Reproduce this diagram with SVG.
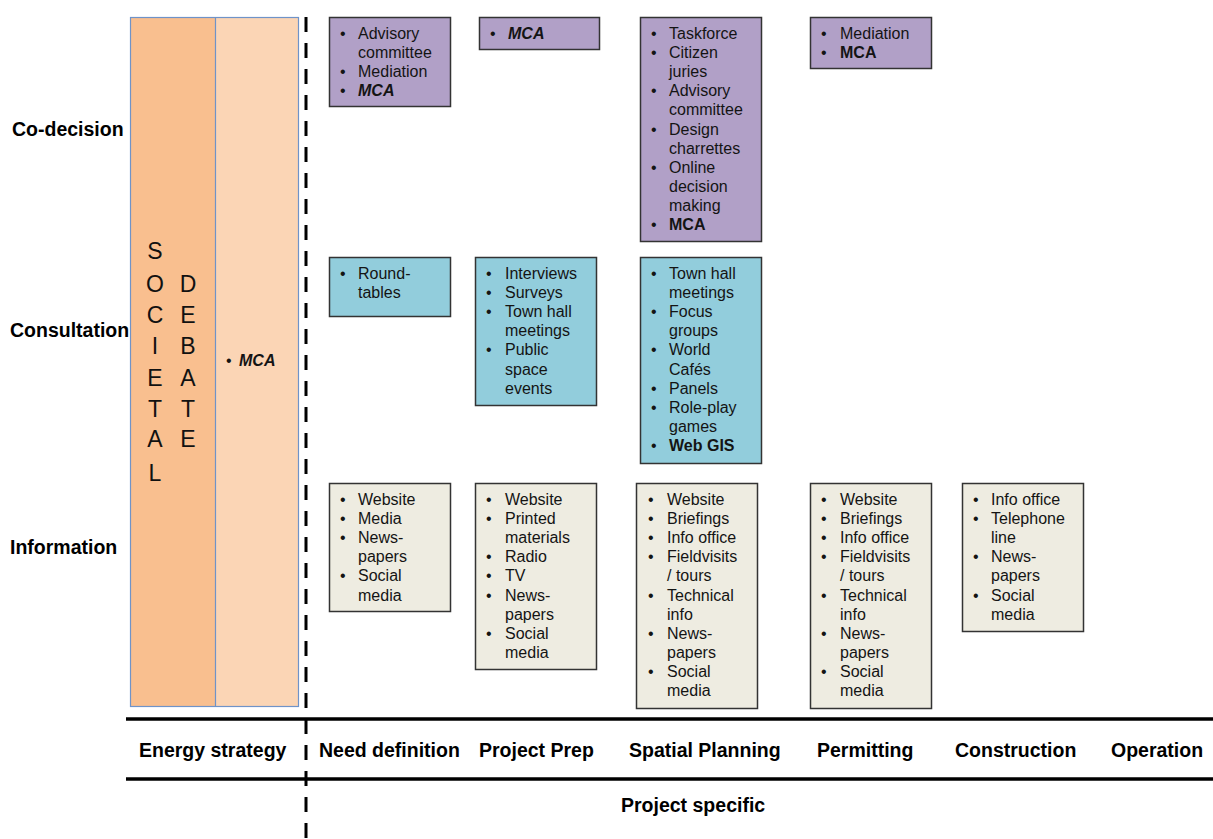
<svg xmlns="http://www.w3.org/2000/svg" width="1213" height="839" viewBox="0 0 1213 839">
<style>
text{font-family:"Liberation Sans",Arial,sans-serif;}
.lbl{font-size:19.5px;font-weight:bold;fill:#000;}
.it{font-size:16px;fill:#141414;}
.b{font-weight:bold;}
.bi{font-weight:bold;font-style:italic;}
.big{font-size:23px;fill:#111;text-anchor:middle;}
.box{stroke:#333;stroke-width:1.5;}
.pur{fill:#B1A0C7;}
.blu{fill:#92CDDC;}
.bei{fill:#EEECE1;}
.rule{stroke:#000;stroke-width:3.5;}
</style>
<rect width="1213" height="839" fill="#fff"/>
<g id="societal-panel">
<rect x="130.5" y="17.5" width="85" height="689" fill="#F9BF8F"/>
<rect x="215.5" y="17.5" width="83" height="689" fill="#FBD5B5"/>
<rect x="130.5" y="17.5" width="168" height="689" fill="none" stroke="#6F93C8" stroke-width="1.2"/>
<line x1="215.5" y1="17.5" x2="215.5" y2="706.5" stroke="#6F93C8" stroke-width="1.2"/>
<text class="big" x="155" y="259">S</text>
<text class="big" x="155" y="292">O</text>
<text class="big" x="155" y="323">C</text>
<text class="big" x="155" y="354">I</text>
<text class="big" x="155" y="386">E</text>
<text class="big" x="155" y="417">T</text>
<text class="big" x="155" y="447">A</text>
<text class="big" x="155" y="481">L</text>
<text class="big" x="188" y="292">D</text>
<text class="big" x="188" y="323">E</text>
<text class="big" x="188" y="354">B</text>
<text class="big" x="188" y="386">A</text>
<text class="big" x="188" y="417">T</text>
<text class="big" x="188" y="447">E</text>
<text class="it" x="226" y="366" font-size="13">•</text>
<text class="it bi" x="239" y="366">MCA</text>
</g>
<g id="row-labels">
<text class="lbl" x="12" y="136">Co-decision</text>
<text class="lbl" x="10" y="337">Consultation</text>
<text class="lbl" x="10" y="554">Information</text>
</g>
<g id="connectors">
<line x1="306" y1="17" x2="306" y2="839" stroke="#000" stroke-width="3" stroke-dasharray="15 11"/>
<line class="rule" x1="126" y1="719" x2="1213" y2="719"/>
<line class="rule" x1="126" y1="779" x2="1213" y2="779"/>
</g>
<g id="phase-labels">
<text class="lbl" x="139" y="757">Energy strategy</text>
<text class="lbl" x="319" y="757">Need definition</text>
<text class="lbl" x="479" y="757">Project Prep</text>
<text class="lbl" x="629" y="757">Spatial Planning</text>
<text class="lbl" x="817" y="757">Permitting</text>
<text class="lbl" x="955" y="757">Construction</text>
<text class="lbl" x="1111" y="757">Operation</text>
<text class="lbl" x="621" y="812">Project specific</text>
</g>
<g id="cd-need" class="it">
<rect class="box pur" x="329.5" y="17.5" width="121" height="89"/>
<text x="340" y="39">•</text><text x="358" y="39">Advisory</text>
<text x="358" y="58.1">committee</text>
<text x="340" y="77.2">•</text><text x="358" y="77.2">Mediation</text>
<text x="340" y="96.3">•</text><text class="bi" x="358" y="96.3">MCA</text>
</g>
<g id="cd-prep" class="it">
<rect class="box pur" x="479.5" y="17.5" width="120" height="32"/>
<text x="490" y="39">•</text><text class="bi" x="508" y="39">MCA</text>
</g>
<g id="cd-spatial" class="it">
<rect class="box pur" x="640.5" y="17.5" width="121" height="224"/>
<text x="651" y="39">•</text><text x="669" y="39">Taskforce</text>
<text x="651" y="58.1">•</text><text x="669" y="58.1">Citizen</text>
<text x="669" y="77.2">juries</text>
<text x="651" y="96.3">•</text><text x="669" y="96.3">Advisory</text>
<text x="669" y="115.4">committee</text>
<text x="651" y="134.5">•</text><text x="669" y="134.5">Design</text>
<text x="669" y="153.6">charrettes</text>
<text x="651" y="172.7">•</text><text x="669" y="172.7">Online</text>
<text x="669" y="191.8">decision</text>
<text x="669" y="210.9">making</text>
<text x="651" y="230">•</text><text class="b" x="669" y="230">MCA</text>
</g>
<g id="cd-permit" class="it">
<rect class="box pur" x="810.5" y="17.5" width="121" height="51"/>
<text x="821" y="39">•</text><text x="840" y="39">Mediation</text>
<text x="821" y="58.1">•</text><text class="b" x="840" y="58.1">MCA</text>
</g>
<g id="con-need" class="it">
<rect class="box blu" x="329.5" y="257.5" width="121" height="59"/>
<text x="340" y="279">•</text><text x="358" y="279">Round-</text>
<text x="358" y="298.1">tables</text>
</g>
<g id="con-prep" class="it">
<rect class="box blu" x="475.5" y="257.5" width="121" height="148"/>
<text x="486" y="279">•</text><text x="505" y="279">Interviews</text>
<text x="486" y="298.1">•</text><text x="505" y="298.1">Surveys</text>
<text x="486" y="317.2">•</text><text x="505" y="317.2">Town hall</text>
<text x="505" y="336.3">meetings</text>
<text x="486" y="355.4">•</text><text x="505" y="355.4">Public</text>
<text x="505" y="374.5">space</text>
<text x="505" y="393.6">events</text>
</g>
<g id="con-spatial" class="it">
<rect class="box blu" x="640.5" y="257.5" width="121" height="206"/>
<text x="651" y="279">•</text><text x="669" y="279">Town hall</text>
<text x="669" y="298.1">meetings</text>
<text x="651" y="317.2">•</text><text x="669" y="317.2">Focus</text>
<text x="669" y="336.3">groups</text>
<text x="651" y="355.4">•</text><text x="669" y="355.4">World</text>
<text x="669" y="374.5">Cafés</text>
<text x="651" y="393.6">•</text><text x="669" y="393.6">Panels</text>
<text x="651" y="412.7">•</text><text x="669" y="412.7">Role-play</text>
<text x="669" y="431.8">games</text>
<text x="651" y="450.9">•</text><text class="b" x="669" y="450.9">Web GIS</text>
</g>
<g id="inf-need" class="it">
<rect class="box bei" x="329.5" y="483.5" width="121" height="128"/>
<text x="340" y="505">•</text><text x="358" y="505">Website</text>
<text x="340" y="524.1">•</text><text x="358" y="524.1">Media</text>
<text x="340" y="543.2">•</text><text x="358" y="543.2">News-</text>
<text x="358" y="562.3">papers</text>
<text x="340" y="581.4">•</text><text x="358" y="581.4">Social</text>
<text x="358" y="600.5">media</text>
</g>
<g id="inf-prep" class="it">
<rect class="box bei" x="475.5" y="483.5" width="121" height="186"/>
<text x="486" y="505">•</text><text x="505" y="505">Website</text>
<text x="486" y="524.1">•</text><text x="505" y="524.1">Printed</text>
<text x="505" y="543.2">materials</text>
<text x="486" y="562.3">•</text><text x="505" y="562.3">Radio</text>
<text x="486" y="581.4">•</text><text x="505" y="581.4">TV</text>
<text x="486" y="600.5">•</text><text x="505" y="600.5">News-</text>
<text x="505" y="619.6">papers</text>
<text x="486" y="638.7">•</text><text x="505" y="638.7">Social</text>
<text x="505" y="657.8">media</text>
</g>
<g id="inf-spatial" class="it">
<rect class="box bei" x="636.5" y="483.5" width="121" height="225"/>
<text x="648" y="505">•</text><text x="667" y="505">Website</text>
<text x="648" y="524.1">•</text><text x="667" y="524.1">Briefings</text>
<text x="648" y="543.2">•</text><text x="667" y="543.2">Info office</text>
<text x="648" y="562.3">•</text><text x="667" y="562.3">Fieldvisits</text>
<text x="667" y="581.4">/ tours</text>
<text x="648" y="600.5">•</text><text x="667" y="600.5">Technical</text>
<text x="667" y="619.6">info</text>
<text x="648" y="638.7">•</text><text x="667" y="638.7">News-</text>
<text x="667" y="657.8">papers</text>
<text x="648" y="676.9">•</text><text x="667" y="676.9">Social</text>
<text x="667" y="696">media</text>
</g>
<g id="inf-permit" class="it">
<rect class="box bei" x="810.5" y="483.5" width="121" height="225"/>
<text x="821" y="505">•</text><text x="840" y="505">Website</text>
<text x="821" y="524.1">•</text><text x="840" y="524.1">Briefings</text>
<text x="821" y="543.2">•</text><text x="840" y="543.2">Info office</text>
<text x="821" y="562.3">•</text><text x="840" y="562.3">Fieldvisits</text>
<text x="840" y="581.4">/ tours</text>
<text x="821" y="600.5">•</text><text x="840" y="600.5">Technical</text>
<text x="840" y="619.6">info</text>
<text x="821" y="638.7">•</text><text x="840" y="638.7">News-</text>
<text x="840" y="657.8">papers</text>
<text x="821" y="676.9">•</text><text x="840" y="676.9">Social</text>
<text x="840" y="696">media</text>
</g>
<g id="inf-construction" class="it">
<rect class="box bei" x="962.5" y="483.5" width="121" height="148"/>
<text x="973" y="505">•</text><text x="991" y="505">Info office</text>
<text x="973" y="524.1">•</text><text x="991" y="524.1">Telephone</text>
<text x="991" y="543.2">line</text>
<text x="973" y="562.3">•</text><text x="991" y="562.3">News-</text>
<text x="991" y="581.4">papers</text>
<text x="973" y="600.5">•</text><text x="991" y="600.5">Social</text>
<text x="991" y="619.6">media</text>
</g>
</svg>
